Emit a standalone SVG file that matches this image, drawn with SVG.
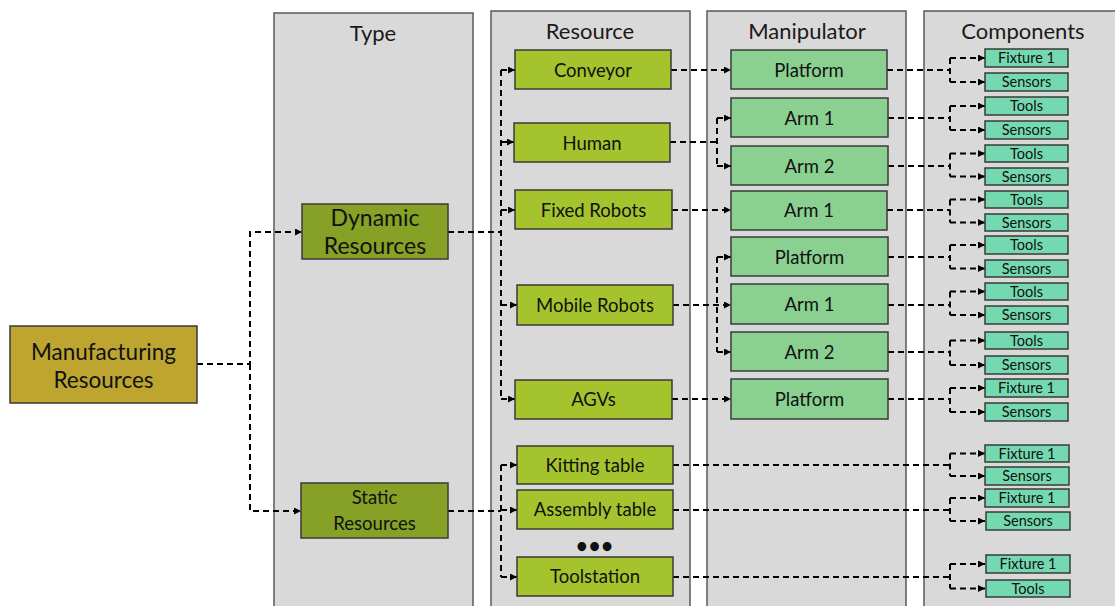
<svg xmlns="http://www.w3.org/2000/svg" width="1115" height="606" viewBox="0 0 1115 606">
<defs>
<marker id="ah" viewBox="0 0 10 10" refX="10" refY="5" markerWidth="8" markerHeight="7" markerUnits="userSpaceOnUse" orient="auto"><path d="M0,0 L10,5 L0,10 z" fill="#000"/></marker>
<style>
.panel{fill:#d9d9d9;stroke:#595959;stroke-width:1.5}
.title{font-family:Lato,"Open Sans","Liberation Sans",sans-serif;font-size:22px;fill:#1a1a1a;text-anchor:middle}
.t{font-family:Lato,"Open Sans","Liberation Sans",sans-serif;font-size:18.5px;fill:#111;text-anchor:middle}
.tl{font-family:Lato,"Open Sans","Liberation Sans",sans-serif;font-size:23px;fill:#111;text-anchor:middle}
.ts{font-family:Lato,"Open Sans","Liberation Sans",sans-serif;font-size:14.5px;fill:#111;text-anchor:middle}
.mr{fill:#bda52f;stroke:#3a3a3a;stroke-width:1.5}
.ty{fill:#86a125;stroke:#3a3a3a;stroke-width:1.5}
.rs{fill:#a5c32c;stroke:#3a3a3a;stroke-width:1.5}
.mp{fill:#8ad090;stroke:#3a3a3a;stroke-width:1.5}
.cp{fill:#74d9b0;stroke:#3a3a3a;stroke-width:1.5}
.c{fill:none;stroke:#000;stroke-width:2;stroke-dasharray:6 4}
.a{marker-end:url(#ah)}
</style>
</defs>
<rect width="1115" height="606" fill="#fff"/>
<g id="panels">
<rect class="panel" x="274" y="13" width="199" height="610"/>
<text class="title" x="373" y="41">Type</text>
<rect class="panel" x="491" y="11" width="199" height="612"/>
<text class="title" x="590" y="39">Resource</text>
<rect class="panel" x="707" y="11" width="199" height="612"/>
<text class="title" x="807" y="39">Manipulator</text>
<rect class="panel" x="924" y="11" width="200" height="612"/>
<text class="title" x="1023" y="39">Components</text>
</g>
<g id="connectors">
<path class="c a" d="M197,364 H250 V232 H302"/>
<path class="c a" d="M250,364 V511 H301"/>
<path class="c" d="M448,232 H501"/>
<path class="c" d="M501,70 V399"/>
<path class="c a" d="M501,70 H515"/>
<path class="c a" d="M501,142 H514"/>
<path class="c a" d="M501,210 H515"/>
<path class="c a" d="M501,305 H517"/>
<path class="c a" d="M501,399 H515"/>
<path class="c" d="M448,511 H501"/>
<path class="c" d="M501,465 V577"/>
<path class="c a" d="M501,465 H517"/>
<path class="c a" d="M501,510 H517"/>
<path class="c a" d="M501,577 H517"/>
<path class="c a" d="M671,70 H731"/>
<path class="c" d="M670,142 H717"/>
<path class="c" d="M717,118 V166"/>
<path class="c a" d="M717,118 H731"/>
<path class="c a" d="M717,166 H731"/>
<path class="c a" d="M672,210 H731"/>
<path class="c a" d="M673,305 H731"/>
<path class="c" d="M717,257 V352"/>
<path class="c a" d="M717,257 H731"/>
<path class="c a" d="M717,352 H731"/>
<path class="c a" d="M672,399 H731"/>
<path class="c" d="M887,70 H950 M950,58 V82"/><path class="c a" d="M950,58 H985"/><path class="c a" d="M950,82 H985"/>
<path class="c" d="M888,118 H950 M950,106 V130"/><path class="c a" d="M950,106 H985"/><path class="c a" d="M950,130 H985"/>
<path class="c" d="M888,166 H950 M950,153.5 V176.5"/><path class="c a" d="M950,153.5 H985"/><path class="c a" d="M950,176.5 H985"/>
<path class="c" d="M887,210 H950 M950,199.5 V222.5"/><path class="c a" d="M950,199.5 H985"/><path class="c a" d="M950,222.5 H985"/>
<path class="c" d="M888,257 H950 M950,245 V268.5"/><path class="c a" d="M950,245 H985"/><path class="c a" d="M950,268.5 H985"/>
<path class="c" d="M888,305 H950 M950,291.5 V315"/><path class="c a" d="M950,291.5 H985"/><path class="c a" d="M950,315 H985"/>
<path class="c" d="M888,352 H950 M950,340.5 V365"/><path class="c a" d="M950,340.5 H985"/><path class="c a" d="M950,365 H985"/>
<path class="c" d="M888,399 H950 M950,388 V412"/><path class="c a" d="M950,388 H985"/><path class="c a" d="M950,412 H985"/>
<path class="c" d="M673,465 H950 M950,453.5 V476"/><path class="c a" d="M950,453.5 H985"/><path class="c a" d="M950,476 H985"/>
<path class="c" d="M673,510 H950 M950,498 V521"/><path class="c a" d="M950,498 H985"/><path class="c a" d="M950,521 H985"/>
<path class="c" d="M673,577 H950 M950,564 V588.5"/><path class="c a" d="M950,564 H985"/><path class="c a" d="M950,588.5 H985"/>
</g>
<g id="n-manufacturing"><rect class="mr" x="10" y="326" width="187" height="77"/><text class="tl" x="103.5" y="360" style="font-size:22.5px">Manufacturing</text><text class="tl" x="103.5" y="388" style="font-size:22.5px">Resources</text></g>
<g id="n-dynamic"><rect class="ty" x="302" y="204" width="146" height="55"/><text class="tl" x="375" y="226">Dynamic</text><text class="tl" x="375" y="254">Resources</text></g>
<g id="n-static"><rect class="ty" x="301" y="483" width="147" height="55"/><text class="t" x="374.5" y="504">Static</text><text class="t" x="374.5" y="530">Resources</text></g>
<g id="n-conveyor"><rect class="rs" x="515" y="50" width="156" height="39"/><text class="t" x="593" y="76.5">Conveyor</text></g>
<g id="n-human"><rect class="rs" x="514" y="123" width="156" height="39"/><text class="t" x="592" y="149.5">Human</text></g>
<g id="n-fixed"><rect class="rs" x="515" y="190" width="157" height="39"/><text class="t" x="593.5" y="216.5">Fixed Robots</text></g>
<g id="n-mobile"><rect class="rs" x="517" y="285" width="156" height="40"/><text class="t" x="595" y="311.5">Mobile Robots</text></g>
<g id="n-agvs"><rect class="rs" x="515" y="380" width="157" height="39"/><text class="t" x="593.5" y="406">AGVs</text></g>
<g id="n-kitting"><rect class="rs" x="517" y="446" width="156" height="38"/><text class="t" x="595" y="471.5">Kitting table</text></g>
<g id="n-assembly"><rect class="rs" x="517" y="490" width="156" height="39"/><text class="t" x="595" y="516">Assembly table</text></g>
<g id="n-dots"><text class="t" x="595" y="553" style="font-size:20px;font-weight:bold;letter-spacing:1px">•••</text></g>
<g id="n-toolstation"><rect class="rs" x="517" y="557" width="156" height="39"/><text class="t" x="595" y="583">Toolstation</text></g>
<g id="m-platform1"><rect class="mp" x="731" y="50" width="156" height="39"/><text class="t" x="809" y="76.5">Platform</text></g>
<g id="m-arm1a"><rect class="mp" x="731" y="98" width="157" height="39"/><text class="t" x="809.5" y="124.5">Arm 1</text></g>
<g id="m-arm2a"><rect class="mp" x="731" y="146" width="157" height="39"/><text class="t" x="809.5" y="172.5">Arm 2</text></g>
<g id="m-arm1b"><rect class="mp" x="731" y="191" width="156" height="39"/><text class="t" x="809" y="217">Arm 1</text></g>
<g id="m-platform2"><rect class="mp" x="731" y="237" width="157" height="39"/><text class="t" x="809.5" y="263.5">Platform</text></g>
<g id="m-arm1c"><rect class="mp" x="731" y="284" width="157" height="40"/><text class="t" x="809.5" y="310.5">Arm 1</text></g>
<g id="m-arm2c"><rect class="mp" x="731" y="332" width="157" height="39"/><text class="t" x="809.5" y="358.5">Arm 2</text></g>
<g id="m-platform3"><rect class="mp" x="731" y="379" width="157" height="40"/><text class="t" x="809.5" y="405.5">Platform</text></g>
<g id="c1"><rect class="cp" x="985" y="49" width="83" height="18"/><text class="ts" x="1026.5" y="63">Fixture 1</text></g>
<g id="c2"><rect class="cp" x="985" y="73" width="83" height="18"/><text class="ts" x="1026.5" y="87">Sensors</text></g>
<g id="c3"><rect class="cp" x="985" y="97" width="83" height="18"/><text class="ts" x="1026.5" y="111">Tools</text></g>
<g id="c4"><rect class="cp" x="985" y="121" width="83" height="18"/><text class="ts" x="1026.5" y="135">Sensors</text></g>
<g id="c5"><rect class="cp" x="985" y="145" width="83" height="17"/><text class="ts" x="1026.5" y="158.5">Tools</text></g>
<g id="c6"><rect class="cp" x="985" y="168" width="83" height="17"/><text class="ts" x="1026.5" y="181.5">Sensors</text></g>
<g id="c7"><rect class="cp" x="985" y="191" width="83" height="17"/><text class="ts" x="1026.5" y="204.5">Tools</text></g>
<g id="c8"><rect class="cp" x="985" y="214" width="83" height="17"/><text class="ts" x="1026.5" y="227.5">Sensors</text></g>
<g id="c9"><rect class="cp" x="985" y="236" width="83" height="18"/><text class="ts" x="1026.5" y="250">Tools</text></g>
<g id="c10"><rect class="cp" x="985" y="260" width="83" height="17"/><text class="ts" x="1026.5" y="273.5">Sensors</text></g>
<g id="c11"><rect class="cp" x="985" y="283" width="83" height="17"/><text class="ts" x="1026.5" y="296.5">Tools</text></g>
<g id="c12"><rect class="cp" x="985" y="306" width="83" height="18"/><text class="ts" x="1026.5" y="320">Sensors</text></g>
<g id="c13"><rect class="cp" x="985" y="332" width="83" height="17"/><text class="ts" x="1026.5" y="345.5">Tools</text></g>
<g id="c14"><rect class="cp" x="985" y="356" width="83" height="18"/><text class="ts" x="1026.5" y="370">Sensors</text></g>
<g id="c15"><rect class="cp" x="985" y="379" width="83" height="18"/><text class="ts" x="1026.5" y="393">Fixture 1</text></g>
<g id="c16"><rect class="cp" x="985" y="403" width="83" height="18"/><text class="ts" x="1026.5" y="417">Sensors</text></g>
<g id="c17"><rect class="cp" x="985" y="445" width="84" height="17"/><text class="ts" x="1027" y="458.5">Fixture 1</text></g>
<g id="c18"><rect class="cp" x="985" y="467" width="84" height="18"/><text class="ts" x="1027" y="481">Sensors</text></g>
<g id="c19"><rect class="cp" x="985" y="489" width="84" height="18"/><text class="ts" x="1027" y="503">Fixture 1</text></g>
<g id="c20"><rect class="cp" x="986" y="512" width="84" height="18"/><text class="ts" x="1028" y="526">Sensors</text></g>
<g id="c21"><rect class="cp" x="986" y="555" width="84" height="18"/><text class="ts" x="1028" y="569">Fixture 1</text></g>
<g id="c22"><rect class="cp" x="986" y="580" width="84" height="17"/><text class="ts" x="1028" y="593.5">Tools</text></g>
</svg>
